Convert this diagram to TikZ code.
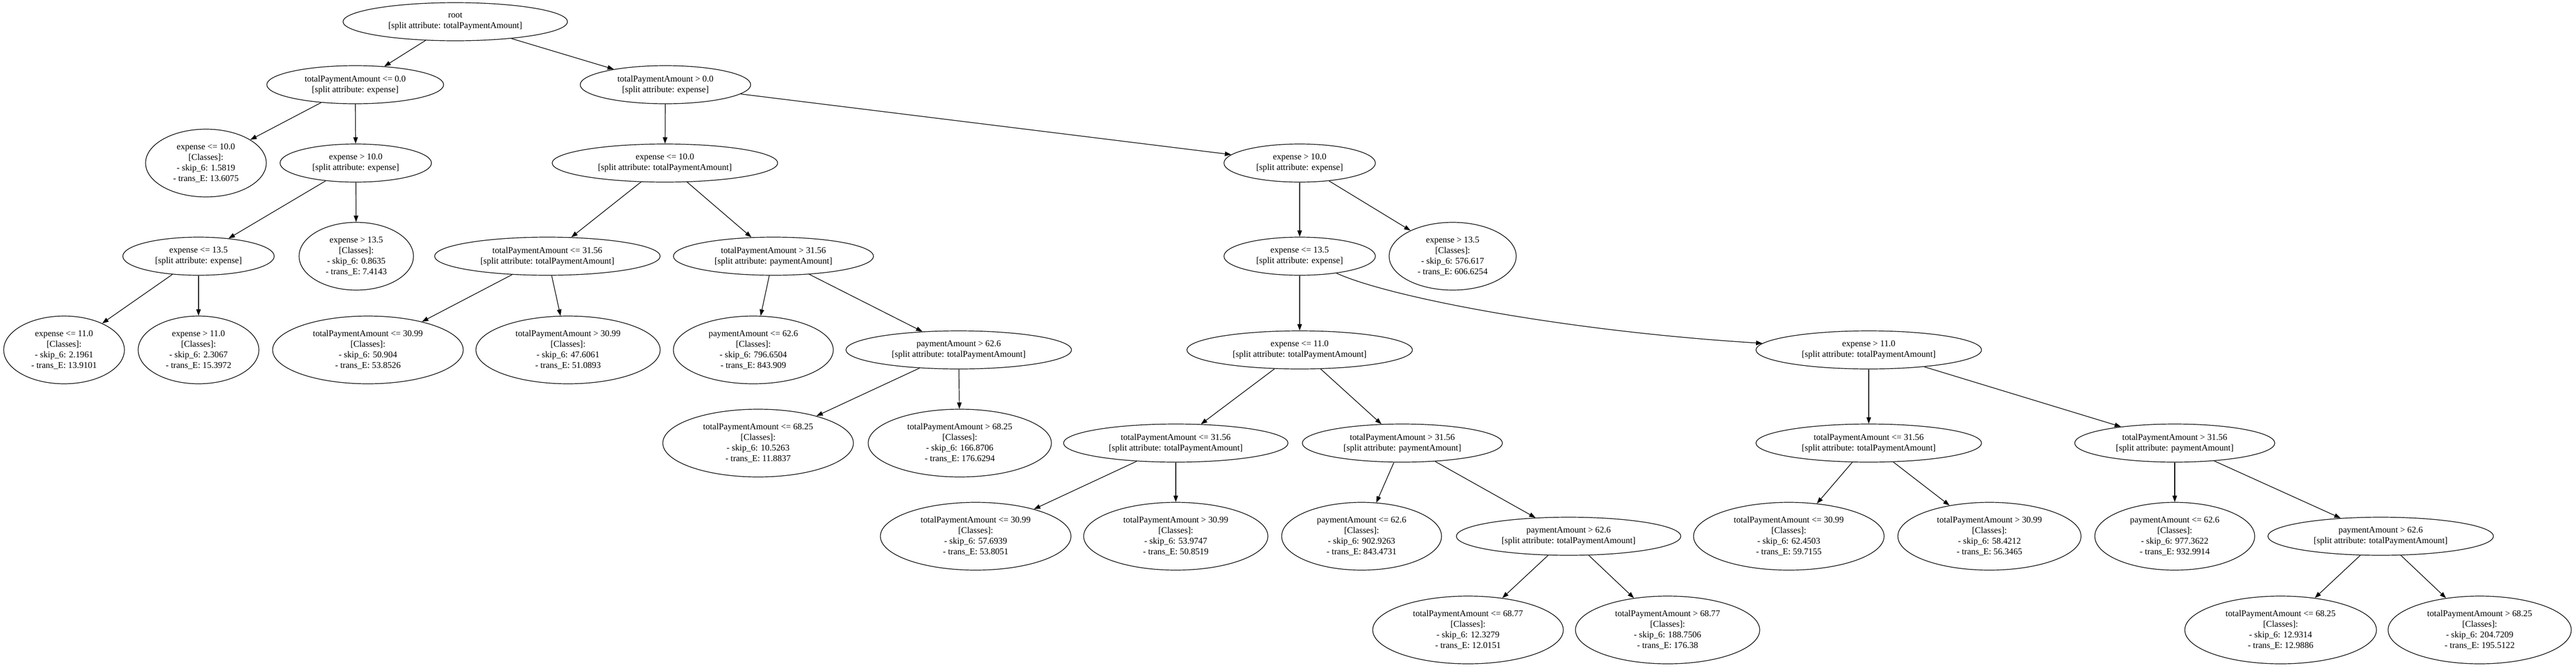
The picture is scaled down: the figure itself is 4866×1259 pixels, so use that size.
\documentclass[tikz,border=0pt]{standalone}
\usepackage{fontspec}
\setmainfont{Liberation Serif}
\usetikzlibrary{shapes.geometric,arrows.meta}
\begin{document}
\begin{tikzpicture}[x=1pt,y=-1pt,
  every node/.style={font=\fontsize{16.7}{20}\selectfont},
  split/.style={draw, ellipse, line width=1.2pt, inner sep=0pt, align=center, minimum height=72pt},
  leaf/.style={draw, ellipse, line width=1.2pt, inner sep=0pt, align=center, minimum height=128pt},
  edge/.style={draw, line width=1.2pt, -{Triangle[length=12pt,width=8.5pt]}}]
\useasboundingbox (0,0) rectangle (4866,1259);
% split nodes
\node[split, minimum width=424pt] (n0) at (860,41) {root\\{}[split attribute: totalPaymentAmount]};
\node[split, minimum width=334pt] (n1) at (671,160) {totalPaymentAmount <= 0.0\\{}[split attribute: expense]};
\node[split, minimum width=322pt] (n2) at (1257,160) {totalPaymentAmount > 0.0\\{}[split attribute: expense]};
\node[split, minimum width=286pt] (n4) at (672,308) {expense > 10.0\\{}[split attribute: expense]};
\node[split, minimum width=426pt] (n5) at (1256,308) {expense <= 10.0\\{}[split attribute: totalPaymentAmount]};
\node[split, minimum width=286pt] (n6) at (2455,308) {expense > 10.0\\{}[split attribute: expense]};
\node[split, minimum width=286pt] (n7) at (375,484) {expense <= 13.5\\{}[split attribute: expense]};
\node[split, minimum width=426pt] (n9) at (1034,484) {totalPaymentAmount <= 31.56\\{}[split attribute: totalPaymentAmount]};
\node[split, minimum width=378pt] (n10) at (1461,484) {totalPaymentAmount > 31.56\\{}[split attribute: paymentAmount]};
\node[split, minimum width=286pt] (n11) at (2455,484) {expense <= 13.5\\{}[split attribute: expense]};
\node[split, minimum width=426pt] (n18) at (1811,661) {paymentAmount > 62.6\\{}[split attribute: totalPaymentAmount]};
\node[split, minimum width=426pt] (n19) at (2455,661) {expense <= 11.0\\{}[split attribute: totalPaymentAmount]};
\node[split, minimum width=426pt] (n20) at (3530,661) {expense > 11.0\\{}[split attribute: totalPaymentAmount]};
\node[split, minimum width=424pt] (n23) at (2221,837) {totalPaymentAmount <= 31.56\\{}[split attribute: totalPaymentAmount]};
\node[split, minimum width=378pt] (n24) at (2649,837) {totalPaymentAmount > 31.56\\{}[split attribute: paymentAmount]};
\node[split, minimum width=426pt] (n25) at (3530,837) {totalPaymentAmount <= 31.56\\{}[split attribute: totalPaymentAmount]};
\node[split, minimum width=378pt] (n26) at (4108,837) {totalPaymentAmount > 31.56\\{}[split attribute: paymentAmount]};
\node[split, minimum width=424pt] (n30) at (2963,1013) {paymentAmount > 62.6\\{}[split attribute: totalPaymentAmount]};
\node[split, minimum width=426pt] (n34) at (4497,1013) {paymentAmount > 62.6\\{}[split attribute: totalPaymentAmount]};
% leaves
\node[leaf, minimum width=228pt] (n3) at (389,308) {expense <= 10.0\\{}[Classes]:\\- skip\_6: 1.5819\\- trans\_E: 13.6075};
\node[leaf, minimum width=216pt] (n8) at (673,484) {expense > 13.5\\{}[Classes]:\\- skip\_6: 0.8635\\- trans\_E: 7.4143};
\node[leaf, minimum width=240pt] (n12) at (2744,484) {expense > 13.5\\{}[Classes]:\\- skip\_6: 576.617\\- trans\_E: 606.6254};
\node[leaf, minimum width=228pt] (n13) at (121,661) {expense <= 11.0\\{}[Classes]:\\- skip\_6: 2.1961\\- trans\_E: 13.9101};
\node[leaf, minimum width=228pt] (n14) at (375,661) {expense > 11.0\\{}[Classes]:\\- skip\_6: 2.3067\\- trans\_E: 15.3972};
\node[leaf, minimum width=360pt] (n15) at (695,661) {totalPaymentAmount <= 30.99\\{}[Classes]:\\- skip\_6: 50.904\\- trans\_E: 53.8526};
\node[leaf, minimum width=348pt] (n16) at (1073,661) {totalPaymentAmount > 30.99\\{}[Classes]:\\- skip\_6: 47.6061\\- trans\_E: 51.0893};
\node[leaf, minimum width=302pt] (n17) at (1423,661) {paymentAmount <= 62.6\\{}[Classes]:\\- skip\_6: 796.6504\\- trans\_E: 843.909};
\node[leaf, minimum width=360pt] (n21) at (1432,837) {totalPaymentAmount <= 68.25\\{}[Classes]:\\- skip\_6: 10.5263\\- trans\_E: 11.8837};
\node[leaf, minimum width=346pt] (n22) at (1813,837) {totalPaymentAmount > 68.25\\{}[Classes]:\\- skip\_6: 166.8706\\- trans\_E: 176.6294};
\node[leaf, minimum width=360pt] (n27) at (1843,1013) {totalPaymentAmount <= 30.99\\{}[Classes]:\\- skip\_6: 57.6939\\- trans\_E: 53.8051};
\node[leaf, minimum width=348pt] (n28) at (2221,1013) {totalPaymentAmount > 30.99\\{}[Classes]:\\- skip\_6: 53.9747\\- trans\_E: 50.8519};
\node[leaf, minimum width=302pt] (n29) at (2572,1013) {paymentAmount <= 62.6\\{}[Classes]:\\- skip\_6: 902.9263\\- trans\_E: 843.4731};
\node[leaf, minimum width=360pt] (n31) at (3379,1013) {totalPaymentAmount <= 30.99\\{}[Classes]:\\- skip\_6: 62.4503\\- trans\_E: 59.7155};
\node[leaf, minimum width=346pt] (n32) at (3758,1013) {totalPaymentAmount > 30.99\\{}[Classes]:\\- skip\_6: 58.4212\\- trans\_E: 56.3465};
\node[leaf, minimum width=302pt] (n33) at (4108,1013) {paymentAmount <= 62.6\\{}[Classes]:\\- skip\_6: 977.3622\\- trans\_E: 932.9914};
\node[leaf, minimum width=360pt] (n35) at (2773,1190) {totalPaymentAmount <= 68.77\\{}[Classes]:\\- skip\_6: 12.3279\\- trans\_E: 12.0151};
\node[leaf, minimum width=348pt] (n36) at (3150,1190) {totalPaymentAmount > 68.77\\{}[Classes]:\\- skip\_6: 188.7506\\- trans\_E: 176.38};
\node[leaf, minimum width=362pt] (n37) at (4308,1190) {totalPaymentAmount <= 68.25\\{}[Classes]:\\- skip\_6: 12.9314\\- trans\_E: 12.9886};
\node[leaf, minimum width=346pt] (n38) at (4684,1190) {totalPaymentAmount > 68.25\\{}[Classes]:\\- skip\_6: 204.7209\\- trans\_E: 195.5122};
% edges
\draw[edge] (n0) -- (n1);
\draw[edge] (n0) -- (n2);
\draw[edge] (n1) -- (n3);
\draw[edge] (n1) -- (n4);
\draw[edge] (n4) -- (n7);
\draw[edge] (n4) -- (n8);
\draw[edge] (n7) -- (n13);
\draw[edge] (n7) -- (n14);
\draw[edge] (n2) -- (n5);
\draw[edge] (n2) -- (n6);
\draw[edge] (n5) -- (n9);
\draw[edge] (n5) -- (n10);
\draw[edge] (n9) -- (n15);
\draw[edge] (n9) -- (n16);
\draw[edge] (n10) -- (n17);
\draw[edge] (n10) -- (n18);
\draw[edge] (n18) -- (n21);
\draw[edge] (n18) -- (n22);
\draw[edge] (n6) -- (n11);
\draw[edge] (n6) -- (n12);
\draw[edge] (n11) -- (n19);
\draw[edge] (n11) .. controls (2620,560) and (2950,625) .. (n20);
\draw[edge] (n19) -- (n23);
\draw[edge] (n19) -- (n24);
\draw[edge] (n23) -- (n27);
\draw[edge] (n23) -- (n28);
\draw[edge] (n24) -- (n29);
\draw[edge] (n24) -- (n30);
\draw[edge] (n30) -- (n35);
\draw[edge] (n30) -- (n36);
\draw[edge] (n20) -- (n25);
\draw[edge] (n20) -- (n26);
\draw[edge] (n25) -- (n31);
\draw[edge] (n25) -- (n32);
\draw[edge] (n26) -- (n33);
\draw[edge] (n26) -- (n34);
\draw[edge] (n34) -- (n37);
\draw[edge] (n34) -- (n38);
\end{tikzpicture}
\end{document}
